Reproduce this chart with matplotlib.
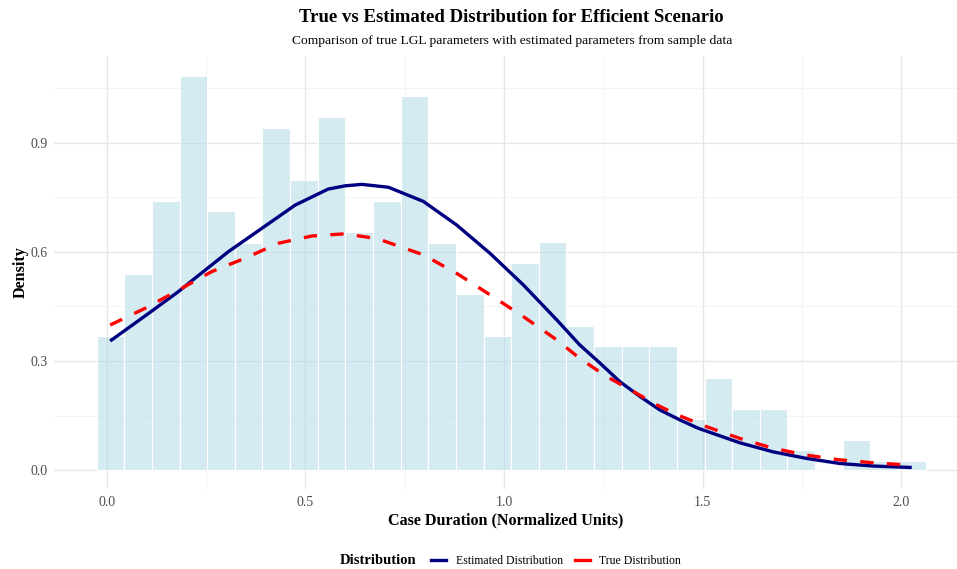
import matplotlib
matplotlib.use("Agg")
import matplotlib.pyplot as plt
from matplotlib.lines import Line2D
from matplotlib.ticker import MultipleLocator
import numpy as np

plt.rcParams['font.family'] = ['Liberation Serif', 'DejaVu Serif']

# histogram (density scale), 30 bins
bin_start = -0.026
bin_width = 0.0696
density = [0.369, 0.540, 0.740, 1.085, 0.713, 0.626, 0.941, 0.798, 0.970, 0.654,
           0.740, 1.028, 0.626, 0.484, 0.369, 0.570, 0.627, 0.397, 0.341, 0.341,
           0.341, 0.141, 0.254, 0.169, 0.169, 0.055, 0.0, 0.083, 0.025, 0.025]

# estimated distribution curve
est_x = [0.008, 0.096, 0.18, 0.222, 0.306, 0.39, 0.474, 0.557, 0.600, 0.642,
         0.709, 0.797, 0.881, 0.965, 1.049, 1.133, 1.191, 1.242, 1.292, 1.343,
         1.393, 1.443, 1.489, 1.594, 1.678, 1.762, 1.846, 1.930, 2.027]
est_y = [0.355, 0.424, 0.491, 0.528, 0.601, 0.665, 0.729, 0.773, 0.782, 0.786,
         0.778, 0.739, 0.674, 0.596, 0.509, 0.413, 0.344, 0.294, 0.243, 0.202,
         0.165, 0.138, 0.115, 0.075, 0.050, 0.032, 0.018, 0.011, 0.007]

# true distribution curve
true_x = [0.008, 0.096, 0.18, 0.264, 0.348, 0.432, 0.516, 0.600, 0.683, 0.797,
          0.881, 0.965, 1.049, 1.133, 1.191, 1.259, 1.326, 1.385, 1.443, 1.511,
          1.594, 1.678, 1.762, 1.846, 1.930, 2.027]
true_y = [0.399, 0.445, 0.495, 0.546, 0.583, 0.624, 0.644, 0.650, 0.636, 0.592,
          0.541, 0.482, 0.422, 0.358, 0.307, 0.257, 0.216, 0.179, 0.149, 0.119,
          0.087, 0.060, 0.041, 0.028, 0.020, 0.013]

x_ticks = [0.0, 0.5, 1.0, 1.5, 2.0]
y_ticks = [0.0, 0.3, 0.6, 0.9]

W, H = 957, 569
fig = plt.figure(figsize=(W / 100, H / 100), dpi=100)
ax = fig.add_axes([54.3 / W, 1 - 489.3 / H, (957 - 54.3) / W, (489.3 - 55.7) / H])

edges = bin_start + bin_width * np.arange(len(density))
ax.bar(edges, density, width=bin_width, align='edge',
       facecolor=(173 / 255, 216 / 255, 230 / 255, 0.5), edgecolor='white', linewidth=0.8)

ax.plot(est_x, est_y, color='navy', lw=2.4, solid_capstyle='butt',
        solid_joinstyle='round', zorder=3)
ax.plot(true_x, true_y, color='red', lw=2.4, dashes=(4.0, 4.0), dash_capstyle='butt', zorder=4)

ax.set_xlim(-0.1327, 2.141)
ax.set_ylim(-0.053, 1.140)
ax.set_xticks(x_ticks)
ax.set_yticks(y_ticks)
ax.set_xticklabels([f"{v:.1f}" for v in x_ticks])
ax.set_yticklabels([f"{v:.1f}" for v in y_ticks])
ax.xaxis.set_minor_locator(MultipleLocator(0.25))
ax.yaxis.set_minor_locator(MultipleLocator(0.15))
ax.grid(which='major', color='#e6e6e6', lw=1.0)
ax.grid(which='minor', color='#f2f2f2', lw=0.6)
ax.set_axisbelow(True)
for s in ax.spines.values():
    s.set_visible(False)
ax.tick_params(which='both', length=0, labelsize=10, labelcolor='#4d4d4d', pad=5)

ax.set_xlabel('Case Duration (Normalized Units)', fontsize=11.6, fontweight='bold', labelpad=2)
ax.set_ylabel('Density', fontsize=11.6, fontweight='bold', labelpad=1)

fig.text(511 / W, 1 - 18 / H, 'True vs Estimated Distribution for Efficient Scenario',
         ha='center', va='center', fontsize=13.5, fontweight='bold')
fig.text(512 / W, 1 - 41 / H,
         'Comparison of true LGL parameters with estimated parameters from sample data',
         ha='center', va='center', fontsize=9.7)

fig.text(378 / W, 1 - 561 / H, 'Distribution', ha='center', va='center',
         fontsize=10.5, fontweight='bold')
handles = [Line2D([], [], color='navy', lw=2.4), Line2D([], [], color='red', lw=2.4)]
fig.legend(handles, ['Estimated Distribution', 'True Distribution'], ncol=2,
           loc='center', bbox_to_anchor=(556 / W, 1 - 561 / H), frameon=False,
           fontsize=8.5, handlelength=1.3, handletextpad=0.8, columnspacing=1.0)

fig.savefig('out.png', dpi=100)
